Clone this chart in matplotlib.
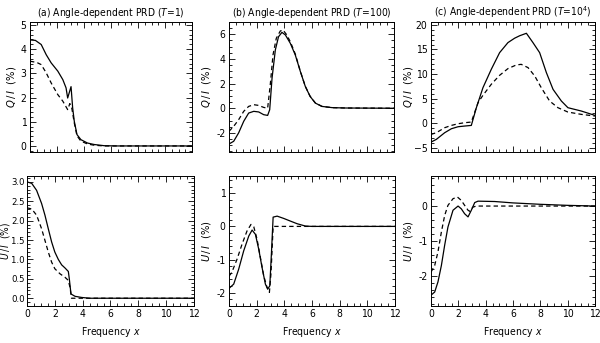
import matplotlib
matplotlib.use("Agg")
import matplotlib.pyplot as plt
from matplotlib.ticker import MultipleLocator

plt.rcParams['font.family'] = ['DejaVu Sans']
plt.rcParams['font.stretch'] = 'condensed'
plt.rcParams['mathtext.fontset'] = 'custom'
plt.rcParams['mathtext.it'] = 'DejaVu Sans:italic:stretch=condensed'
plt.rcParams['mathtext.rm'] = 'DejaVu Sans:stretch=condensed'

# ---------------- data ----------------
titles = [r"(a) Angle-dependent PRD ($T$=1)",
          r"(b) Angle-dependent PRD ($T$=100)",
          r"(c) Angle-dependent PRD ($T$=10$^4$)"]

# Q/I panel (a)
xa_q_s = [0, 0.4, 0.83, 1.2, 1.57, 2.06, 2.43, 2.67, 2.79, 3.04, 3.16, 3.28, 3.48, 3.77, 4.26, 4.75, 5.5, 6.5, 12]
qa_s = [4.38, 4.36, 4.19, 3.77, 3.43, 3.09, 2.74, 2.4, 1.98, 2.45, 1.57, 1.02, 0.47, 0.26, 0.12, 0.06, 0.01, 0.0, 0.0]
xa_q_d = [0, 0.5, 0.83, 1.2, 1.57, 2.06, 2.43, 2.79, 2.95, 3.1, 3.28, 3.48, 3.77, 4.26, 4.75, 5.5, 12]
qa_d = [3.5, 3.45, 3.36, 3.02, 2.6, 2.12, 1.85, 1.5, 1.75, 1.55, 0.95, 0.42, 0.2, 0.08, 0.03, 0.0, 0.0]

# Q/I panel (b)
xb_q_s = [0, 0.34, 0.7, 1.07, 1.43, 1.8, 2.16, 2.52, 2.81, 2.96, 3.13, 3.37, 3.6, 3.85, 4.1, 4.46, 4.82, 5.19, 5.55, 5.9, 6.28, 6.76, 7.5, 8.5, 12]
qb_s = [-2.9, -2.68, -2.0, -1.06, -0.39, -0.25, -0.3, -0.52, -0.58, -0.12, 2.44, 4.73, 5.8, 6.16, 5.95, 5.27, 4.33, 2.98, 1.77, 0.96, 0.42, 0.15, 0.05, 0.02, 0.0]
xb_q_d = [0, 0.34, 0.7, 1.07, 1.43, 1.8, 2.16, 2.52, 2.81, 3.0, 3.2, 3.44, 3.73, 3.93, 4.17, 4.46, 4.82, 5.19, 5.55, 5.9, 6.28, 6.76, 7.5, 8.5, 12]
qb_d = [-1.87, -1.47, -0.93, -0.25, 0.15, 0.29, 0.23, 0.07, 0.0, 1.9, 4.33, 5.68, 6.27, 6.35, 6.0, 5.4, 4.4, 3.0, 1.78, 0.97, 0.43, 0.15, 0.05, 0.02, 0.0]

# Q/I panel (c)
xc_q_s = [0, 0.39, 1.0, 1.49, 1.98, 2.46, 2.95, 3.32, 3.8, 4.41, 5.02, 5.63, 6.12, 6.49, 6.98, 7.46, 7.95, 8.44, 8.93, 9.54, 10.02, 11.0, 12]
qc_s = [-3.88, -3.33, -1.97, -1.16, -0.75, -0.61, -0.48, 3.13, 7.2, 10.95, 14.35, 16.4, 17.3, 17.8, 18.3, 16.4, 14.35, 10.3, 6.87, 4.49, 3.13, 2.45, 1.56]
xc_q_d = [0, 0.39, 1.0, 1.49, 1.98, 2.46, 2.95, 3.44, 3.8, 4.41, 5.02, 5.63, 6.24, 6.6, 7.1, 7.59, 8.07, 8.68, 9.29, 10.02, 11.0, 12]
qc_d = [-2.31, -1.97, -0.95, -0.48, -0.14, 0.07, 0.2, 4.15, 5.65, 7.9, 9.73, 11.1, 11.84, 11.97, 11.3, 9.6, 7.2, 4.49, 3.13, 2.24, 1.77, 1.43]

# U/I panel (a)
xa_u_s = [0, 0.34, 0.69, 1.05, 1.29, 1.53, 1.77, 2.0, 2.25, 2.49, 2.73, 2.97, 3.04, 3.16, 3.45, 3.93, 4.5, 12]
ua_s = [3.0, 2.96, 2.78, 2.44, 2.14, 1.79, 1.45, 1.19, 1.0, 0.86, 0.78, 0.69, 0.5, 0.11, 0.05, 0.02, 0.0, 0.0]
xa_u_d = [0, 0.34, 0.69, 1.05, 1.29, 1.53, 1.77, 2.0, 2.37, 2.73, 2.97, 3.09, 3.2, 12]
ua_d = [2.33, 2.3, 2.14, 1.79, 1.49, 1.19, 0.93, 0.76, 0.63, 0.54, 0.46, 0.28, 0.0, 0.0]

# U/I panel (b)
xb_u_s = [0, 0.34, 0.7, 1.06, 1.43, 1.67, 1.91, 2.15, 2.39, 2.63, 2.8, 2.95, 3.07, 3.19, 3.48, 3.96, 4.44, 4.93, 5.53, 6.0, 12]
ub_s = [-1.87, -1.74, -1.29, -0.74, -0.29, -0.11, -0.24, -0.69, -1.24, -1.74, -1.89, -1.79, -0.79, 0.28, 0.31, 0.24, 0.16, 0.08, 0.01, 0.0, 0.0]
xb_u_d = [0, 0.2, 0.58, 0.94, 1.3, 1.59, 1.79, 2.03, 2.27, 2.51, 2.75, 2.92, 3.04, 3.19, 12]
ub_d = [-1.5, -1.39, -0.99, -0.54, -0.14, 0.06, -0.01, -0.39, -0.94, -1.49, -1.84, -1.99, -1.39, 0.0, 0.0]

# U/I panel (c)
xc_u_s = [0, 0.27, 0.51, 0.76, 1.0, 1.24, 1.61, 1.98, 2.22, 2.46, 2.71, 2.95, 3.2, 3.44, 4.66, 6.0, 8.0, 10.0, 12]
uc_s = [-2.55, -2.46, -2.17, -1.7, -1.12, -0.6, -0.12, 0.0, -0.08, -0.22, -0.31, -0.12, 0.1, 0.14, 0.13, 0.09, 0.05, 0.02, 0.0]
xc_u_d = [0, 0.27, 0.51, 0.76, 1.0, 1.24, 1.61, 1.93, 2.22, 2.46, 2.71, 2.83, 3.07, 3.32, 12]
uc_d = [-1.89, -1.7, -1.31, -0.74, -0.27, 0.02, 0.21, 0.26, 0.16, 0.02, -0.12, -0.15, -0.03, 0.0, 0.0]

# ---------------- layout ----------------
W, H = 600, 343
fig = plt.figure(figsize=(6.0, 3.43), dpi=100)

def ax_px(x0, x1, y0, y1):
    return fig.add_axes([x0 / W, (H - y1) / H, (x1 - x0) / W, (y1 - y0) / H])

top_cols = [(30, 192), (229, 394), (431, 595)]
bot_cols = [(27, 194), (229, 395), (431, 595)]
top_rows = (22, 152)
bot_rows = (176, 306)
top_label_px = [18, 213, 415]
bot_label_px = [12, 213, 415]
bot_label_size = [7.3, 8, 8]
bot_tick_size = [6.8, 7.5, 7.5]
bot_tick_pad = [1.5, 2.5, 2.5]

top_data = [((xa_q_s, qa_s), (xa_q_d, qa_d)),
            ((xb_q_s, qb_s), (xb_q_d, qb_d)),
            ((xc_q_s, qc_s), (xc_q_d, qc_d))]
bot_data = [((xa_u_s, ua_s), (xa_u_d, ua_d)),
            ((xb_u_s, ub_s), (xb_u_d, ub_d)),
            ((xc_u_s, uc_s), (xc_u_d, uc_d))]

top_ylim = [(-0.25, 5.12), (-3.55, 7.0), (-5.9, 20.6)]
top_major = [1, 2, 5]
top_minor = [0.2, 0.5, 1]
bot_ylim = [(-0.2, 3.15), (-2.4, 1.52), (-2.86, 0.86)]
bot_major = [0.5, 1, 1]
bot_minor = [0.1, 0.2, 0.2]

def style(ax, ylim, major, minor, xlabels):
    ax.set_xlim(0, 12)
    ax.set_ylim(*ylim)
    ax.xaxis.set_major_locator(MultipleLocator(2))
    ax.xaxis.set_minor_locator(MultipleLocator(0.5))
    ax.yaxis.set_major_locator(MultipleLocator(major))
    ax.yaxis.set_minor_locator(MultipleLocator(minor))
    ax.tick_params(which='both', direction='in', top=True, right=True,
                   width=0.6, labelsize=7.5, pad=2.5)
    ax.tick_params(which='major', length=4.5)
    ax.tick_params(which='minor', length=2.2)
    if not xlabels:
        ax.tick_params(axis='x', labelbottom=False)
    for s in ax.spines.values():
        s.set_linewidth(0.7)

for i in range(3):
    x0, x1 = top_cols[i]
    ax = ax_px(x0, x1, *top_rows)
    (xs, ys), (xd, yd) = top_data[i]
    ax.plot(xs, ys, color='black', lw=0.9)
    ax.plot(xd, yd, color='black', lw=0.9, ls=(0, (3.5, 2.5)))
    style(ax, top_ylim[i], top_major[i], top_minor[i], False)
    ax.set_title(titles[i], fontsize=7.4, pad=4)
    ax.set_ylabel(r"$Q\,/\,I$  $(\%)$", fontsize=8)
    ax.yaxis.set_label_coords((top_label_px[i] - x0) / (x1 - x0), 0.5)
    if i == 1:
        ax.yaxis.set_major_formatter(plt.FuncFormatter(lambda v, p: f"{v:.0f}"))

    x0, x1 = bot_cols[i]
    axb = ax_px(x0, x1, *bot_rows)
    (xs, ys), (xd, yd) = bot_data[i]
    axb.plot(xs, ys, color='black', lw=0.9)
    axb.plot(xd, yd, color='black', lw=0.9, ls=(0, (3.5, 2.5)))
    style(axb, bot_ylim[i], bot_major[i], bot_minor[i], True)
    axb.tick_params(axis='y', labelsize=bot_tick_size[i], pad=bot_tick_pad[i])
    axb.set_ylabel(r"$U\,/\,I$  $(\%)$", fontsize=bot_label_size[i])
    axb.yaxis.set_label_coords((bot_label_px[i] - x0) / (x1 - x0), 0.5)
    axb.set_xlabel(r"Frequency $x$", fontsize=7.5, labelpad=4)
    if i == 0:
        axb.yaxis.set_major_formatter(plt.FuncFormatter(lambda v, p: f"{v:.1f}"))
    else:
        axb.yaxis.set_major_formatter(plt.FuncFormatter(lambda v, p: f"{v:.0f}"))

fig.savefig("out.png", dpi=100)
